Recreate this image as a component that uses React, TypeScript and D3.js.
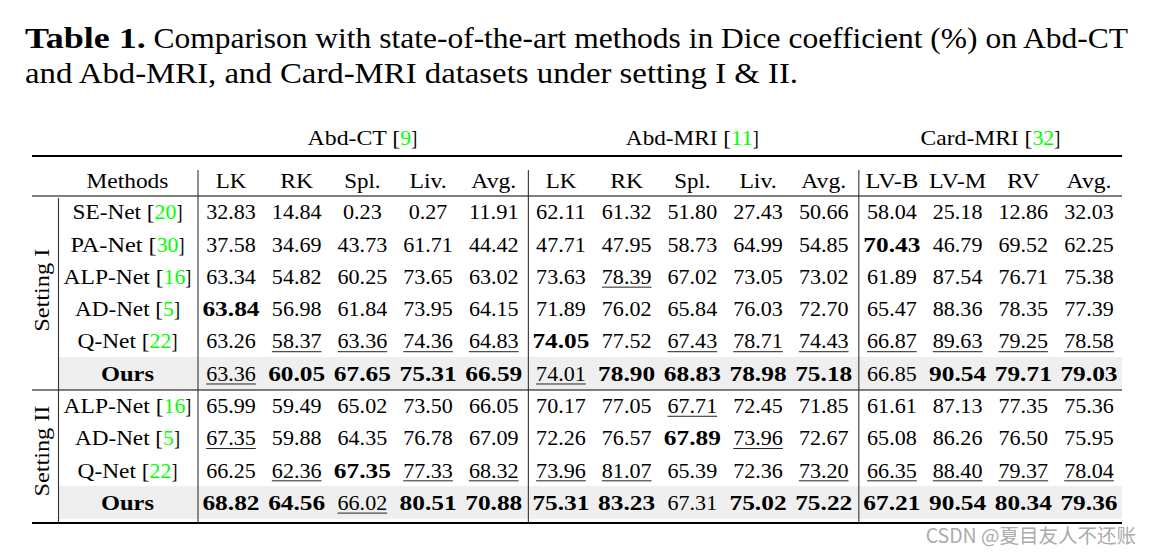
import React, { useEffect } from 'react';
import * as d3 from 'd3';

// ---------- data ----------
const captionLabel = 'Table 1.';
const captionLine1 = 'Comparison with state-of-the-art methods in Dice coefficient (%) on Abd-CT';
const captionLine2 = 'and Abd-MRI, and Card-MRI datasets under setting I & II.';

const datasetNames = ['Abd-CT', 'Abd-MRI', 'Card-MRI'];
const datasetCites = ['9', '11', '32'];
const organsAbdCT = ['LK', 'RK', 'Spl.', 'Liv.', 'Avg.'];
const organsAbdMRI = ['LK', 'RK', 'Spl.', 'Liv.', 'Avg.'];
const organsCardMRI = ['LV-B', 'LV-M', 'RV', 'Avg.'];
const methodsHeader = 'Methods';

const settingNames = ['Setting I', 'Setting II'];

const methodsI = ['SE-Net', 'PA-Net', 'ALP-Net', 'AD-Net', 'Q-Net', 'Ours'];
const citesI = ['20', '30', '16', '5', '22', ''];
const valuesI = [
  [32.83, 14.84, 0.23, 0.27, 11.91, 62.11, 61.32, 51.8, 27.43, 50.66, 58.04, 25.18, 12.86, 32.03],
  [37.58, 34.69, 43.73, 61.71, 44.42, 47.71, 47.95, 58.73, 64.99, 54.85, 70.43, 46.79, 69.52, 62.25],
  [63.34, 54.82, 60.25, 73.65, 63.02, 73.63, 78.39, 67.02, 73.05, 73.02, 61.89, 87.54, 76.71, 75.38],
  [63.84, 56.98, 61.84, 73.95, 64.15, 71.89, 76.02, 65.84, 76.03, 72.7, 65.47, 88.36, 78.35, 77.39],
  [63.26, 58.37, 63.36, 74.36, 64.83, 74.05, 77.52, 67.43, 78.71, 74.43, 66.87, 89.63, 79.25, 78.58],
  [63.36, 60.05, 67.65, 75.31, 66.59, 74.01, 78.9, 68.83, 78.98, 75.18, 66.85, 90.54, 79.71, 79.03],
];
// b = best (bold), u = second best (underline), - = plain
const marksI = [
  '--------------',
  '----------b---',
  '------u-------',
  'b-------------',
  '-uuuub-uuuuuuu',
  'ubbbbubbbb-bbb',
];

const methodsII = ['ALP-Net', 'AD-Net', 'Q-Net', 'Ours'];
const citesII = ['16', '5', '22', ''];
const valuesII = [
  [65.99, 59.49, 65.02, 73.5, 66.05, 70.17, 77.05, 67.71, 72.45, 71.85, 61.61, 87.13, 77.35, 75.36],
  [67.35, 59.88, 64.35, 76.78, 67.09, 72.26, 76.57, 67.89, 73.96, 72.67, 65.08, 86.26, 76.5, 75.95],
  [66.25, 62.36, 67.35, 77.33, 68.32, 73.96, 81.07, 65.39, 72.36, 73.2, 66.35, 88.4, 79.37, 78.04],
  [68.82, 64.56, 66.02, 80.51, 70.88, 75.31, 83.23, 67.31, 75.02, 75.22, 67.21, 90.54, 80.34, 79.36],
];
const marksII = [
  '-------u------',
  'u------bu-----',
  '-ubuuuu--uuuuu',
  'bbubbbb-bbbbbb',
];

const watermark = 'CSDN @夏目友人不还账';

// ---------- font metrics (Computer Modern advance widths, em) ----------
const CMR: Record<string, number> = {
  ' ': 0.333, '.': 0.278, ',': 0.278, '-': 0.333, '[': 0.278, ']': 0.278, '(': 0.389, ')': 0.389,
  '%': 0.833, '&': 0.778,
  A: 0.75, B: 0.708, C: 0.722, D: 0.764, E: 0.681, F: 0.653, G: 0.785, H: 0.75, I: 0.361, K: 0.778,
  L: 0.625, M: 0.917, N: 0.75, O: 0.778, P: 0.681, Q: 0.778, R: 0.736, S: 0.556, T: 0.722, V: 0.75,
  a: 0.5, b: 0.556, c: 0.444, d: 0.556, e: 0.444, f: 0.306, g: 0.5, h: 0.556, i: 0.278, k: 0.528,
  l: 0.278, m: 0.833, n: 0.556, o: 0.5, p: 0.556, r: 0.392, s: 0.394, t: 0.389, u: 0.556, v: 0.528,
  w: 0.722, y: 0.528,
};
const CMBX: Record<string, number> = {
  ' ': 0.383, '.': 0.319, O: 0.864, T: 0.8, a: 0.559, b: 0.639, e: 0.527, l: 0.319, r: 0.474,
  s: 0.454, u: 0.639,
};
function cmWidth(s: string, bold: boolean): number {
  let w = 0;
  for (const ch of s) {
    if (ch >= '0' && ch <= '9') w += bold ? 0.575 : 0.5;
    else w += (bold ? CMBX[ch] ?? (CMR[ch] ?? 0.5) * 1.12 : CMR[ch] ?? 0.5);
  }
  return w;
}

const FONT = "'Liberation Serif', 'Times New Roman', serif";
const GREEN = '#00ff00';

type Seg = { t: string; c?: string };

function Rich({ x, y, segs, anchor = 'middle', fs, bold = false, underline = false }: {
  x: number; y: number; segs: Seg[]; anchor?: 'start' | 'middle' | 'end'; fs: number; bold?: boolean; underline?: boolean;
}) {
  const widths = segs.map((s) => cmWidth(s.t, bold) * fs);
  const total = d3.sum(widths);
  const x0 = anchor === 'middle' ? x - total / 2 : anchor === 'end' ? x - total : x;
  let cx = x0;
  const els = segs.map((s, i) => {
    const el = (
      <text key={i} x={cx} y={y} textLength={widths[i]} lengthAdjust="spacingAndGlyphs"
        fill={s.c || '#000'} fontWeight={bold ? 'bold' : 'normal'} fontSize={fs} fontFamily={FONT}
        style={{ whiteSpace: 'pre' }}>
        {s.t}
      </text>
    );
    cx += widths[i];
    return el;
  });
  return (
    <g>
      {els}
      {underline && <line x1={x0} x2={x0 + total} y1={y + 3.3} y2={y + 3.3} stroke="#222" strokeWidth={1} />}
    </g>
  );
}

export default function App() {
  useEffect(() => {
    document.body.style.margin = '0';
  }, []);

  const W = 1152;
  const H = 557;
  const fs = 21.8;
  const capFs = 29.3;

  const ruleX0 = 32;
  const ruleX1 = 1122;
  const topRuleY = 156;
  const headRuleY = 196;
  const settingRuleY = 390;
  const bottomRuleY = 523;
  const methodX = 127.5;
  const settingX = 48.5;
  const vSettingX = 58.5;

  const organs = [organsAbdCT, organsAbdMRI, organsCardMRI];
  const groupOf: number[] = organs.flatMap((o, g) => o.map(() => g));
  const colKeys = d3.range(groupOf.length);
  const groupOffset = [0, 1.5, 4];
  const xPt = d3.scalePoint<number>().domain(colKeys).range([231, 1085]);
  const xCol = (c: number) => (xPt(c) as number) + groupOffset[groupOf[c]];

  const nRows = methodsI.length + methodsII.length;
  const yRow = d3.scaleLinear().domain([0, nRows - 1]).range([212, 502.5]);
  const rowHalf = 16.4;

  const rows = [
    ...methodsI.map((m, i) => ({ m, cite: citesI[i], vals: valuesI[i], marks: marksI[i] })),
    ...methodsII.map((m, i) => ({ m, cite: citesII[i], vals: valuesII[i], marks: marksII[i] })),
  ];

  // vertical separators between groups
  const groupFirst = organs.map((_, g) => groupOf.indexOf(g));
  const groupLast = organs.map((_, g) => groupOf.lastIndexOf(g));
  const vSepX = [198, ...groupFirst.slice(1).map((c, k) => (xCol(groupLast[k]) + xCol(c)) / 2 + 1)];

  const fmt = d3.format('.2f');

  const tableBoldW = cmWidth(captionLabel, true) * capFs;
  const line1Start = 25 + tableBoldW + 0.333 * capFs * 0.8;

  const settingCenters = [
    (yRow(0) + yRow(methodsI.length - 1)) / 2 - 2.5,
    (yRow(methodsI.length) + yRow(nRows - 1)) / 2 - 3,
  ];

  return (
    <svg width={W} height={H} style={{ position: 'fixed', left: 0, top: 0, display: 'block', background: '#fff' }}>
      <rect x={0} y={0} width={W} height={H} fill="#fff" />
      {/* caption */}
      <text x={25} y={48} fontFamily={FONT} fontWeight="bold" fontSize={capFs}
        textLength={tableBoldW} lengthAdjust="spacingAndGlyphs">{captionLabel}</text>
      <text x={line1Start} y={48} fontFamily={FONT} fontSize={capFs}
        textLength={1128 - line1Start} lengthAdjust="spacingAndGlyphs">{captionLine1}</text>
      <text x={25} y={83} fontFamily={FONT} fontSize={capFs}
        textLength={cmWidth(captionLine2, false) * capFs} lengthAdjust="spacingAndGlyphs">{captionLine2}</text>

      {/* grey rows for Ours */}
      {rows.map((r, i) => r.cite === '' ? (
        <rect key={'bg' + i} x={vSettingX} y={yRow(i) - rowHalf} width={ruleX1 - vSettingX} height={rowHalf * 2} fill="#efefef" />
      ) : null)}

      {/* dataset group headers */}
      {datasetNames.map((d, g) => (
        <Rich key={'gh' + g} x={(xCol(groupFirst[g]) + xCol(groupLast[g])) / 2} y={145} fs={fs}
          segs={[{ t: d + ' [' }, { t: datasetCites[g], c: GREEN }, { t: ']' }]} />
      ))}

      {/* rules */}
      <line x1={ruleX0} x2={ruleX1} y1={topRuleY} y2={topRuleY} stroke="#000" strokeWidth={2} />
      <line x1={ruleX0} x2={ruleX1} y1={headRuleY} y2={headRuleY} stroke="#000" strokeWidth={1.1} />
      <line x1={ruleX0} x2={ruleX1} y1={settingRuleY} y2={settingRuleY} stroke="#000" strokeWidth={1.1} />
      <line x1={ruleX0} x2={ruleX1} y1={bottomRuleY} y2={bottomRuleY} stroke="#000" strokeWidth={2} />

      {/* vertical lines */}
      {vSepX.map((x, i) => (
        <line key={'v' + i} x1={x} x2={x} y1={170} y2={bottomRuleY} stroke="#333" strokeWidth={1.1} />
      ))}
      <line x1={vSettingX} x2={vSettingX} y1={headRuleY + 2} y2={bottomRuleY} stroke="#333" strokeWidth={1.1} />

      {/* column header */}
      <Rich x={methodX} y={187.5} fs={fs} segs={[{ t: methodsHeader }]} />
      {organs.flat().map((o, c) => (
        <Rich key={'ch' + c} x={xCol(c)} y={187.5} fs={fs} segs={[{ t: o }]} />
      ))}

      {/* setting labels */}
      {settingNames.map((s, i) => (
        <g key={'s' + i} transform={`translate(${settingX},${settingCenters[i]}) rotate(-90)`}>
          <Rich x={0} y={0} fs={fs} segs={[{ t: s }]} />
        </g>
      ))}

      {/* body */}
      {rows.map((r, i) => (
        <g key={'r' + i}>
          {r.cite === '' ? (
            <Rich x={methodX} y={yRow(i) + 7.3} fs={fs} bold segs={[{ t: r.m }]} />
          ) : (
            <Rich x={methodX} y={yRow(i) + 7.3} fs={fs}
              segs={[{ t: r.m + ' [' }, { t: r.cite, c: GREEN }, { t: ']' }]} />
          )}
          {r.vals.map((v, c) => (
            <Rich key={c} x={xCol(c)} y={yRow(i) + 7.3} fs={fs}
              bold={r.marks[c] === 'b'} underline={r.marks[c] === 'u'}
              segs={[{ t: fmt(v) }]} />
          ))}
        </g>
      ))}

      {/* watermark */}
      <text x={1136} y={543} textAnchor="end" fontFamily="'Noto Sans CJK SC', 'Noto Sans', sans-serif"
        fontSize={19.5} fill="#ababab">{watermark}</text>
    </svg>
  );
}
